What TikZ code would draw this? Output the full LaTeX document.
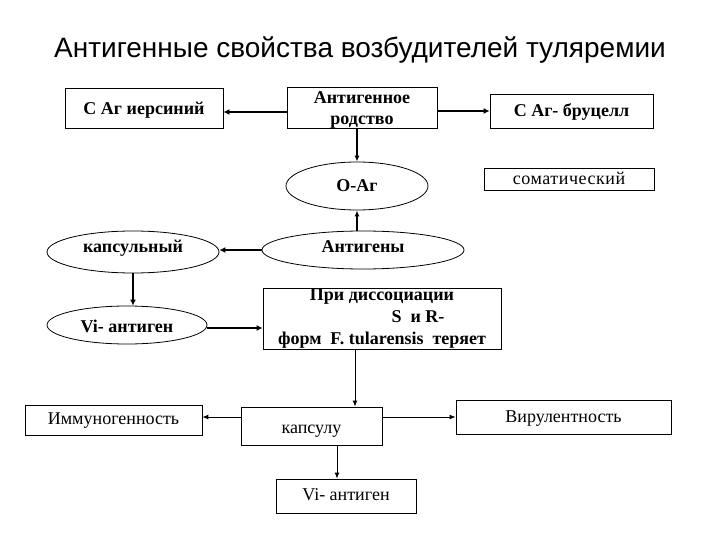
\documentclass[tikz,border=0pt]{standalone}
\usepackage{fontspec}
\setmainfont{Liberation Serif}
\newfontfamily\titlefont{Liberation Sans}
\usetikzlibrary{shapes.geometric,arrows.meta}
\begin{document}
\begin{tikzpicture}[x=1pt,y=-1pt,
  boxm/.style={draw, line width=0.8pt, inner sep=0pt, align=center, font=\fontsize{18}{21}\selectfont\bfseries},
  boxb/.style={draw, line width=0.8pt, inner sep=0pt, font=\fontsize{18}{21}\selectfont\bfseries, text height=12pt, text depth=0pt},
  boxr/.style={draw, line width=0.8pt, inner sep=0pt, font=\fontsize{18}{21}\selectfont, text height=12pt, text depth=0pt},
  ell/.style={draw, ellipse, line width=0.8pt, inner sep=0pt, font=\fontsize{18}{21}\selectfont\bfseries, text depth=0pt},
  arrA/.style={line width=2pt, -{Latex[length=6pt,width=6pt]}},
  arrB/.style={line width=1.3pt, -{Latex[length=6pt,width=5pt]}},
  arrC/.style={line width=0.9pt, -{Latex[length=6pt,width=5pt]}}]
\useasboundingbox (0,0) rectangle (720,540);
\fill[white] (0,0) rectangle (720,540);
\node[anchor=base, font=\titlefont\fontsize{28}{32}\selectfont] (title) at (360,58) {Антигенные свойства возбудителей туляремии};
% top row
\node[boxb, text height=14pt, minimum width=158pt, minimum height=40pt] (ci) at (144,108) {С Аг иерсиний};
\node[boxm, minimum width=150pt, minimum height=40pt] (ar) at (362,108) {\rule{0pt}{16.5pt}Антигенное\\родство};
\node[boxb, minimum width=163pt, minimum height=34pt] (br) at (571.5,111) {С Аг- бруцелл};
\node[boxr, minimum width=170pt, minimum height=22pt, font=\fontsize{18}{21}\selectfont\addfontfeatures{LetterSpace=3}] (som) at (569,179) {соматический};
% ellipses
\node[ell, text height=11pt, minimum width=142pt, minimum height=48pt] (oag) at (357,186) {О-Аг};
\node[ell, text height=0pt, minimum width=172pt, minimum height=42pt] (kap) at (133,252) {капсульный};
\node[ell, text height=4pt, minimum width=202pt, minimum height=38pt] (ag) at (363,250) {Антигены};
\node[ell, text height=14pt, minimum width=160pt, minimum height=38pt] (vi1) at (127,325) {Vi- антиген};
% dissociation box
\node[boxm, minimum width=238pt, minimum height=61pt, font=\fontsize{18}{22}\selectfont\bfseries] (pri) at (382,318.5) {При диссоциации\\\hspace*{72pt}S\ \ и R-\\форм\ \ F. tularensis\ \ теряет};
% bottom row
\node[boxr, text height=8pt, minimum width=177pt, minimum height=30pt] (imm) at (113.5,420) {Иммуногенность};
\node[boxr, text height=14pt, minimum width=141pt, minimum height=38pt] (kap2) at (311.5,426) {капсулу};
\node[boxr, text height=10pt, minimum width=215pt, minimum height=34pt] (vir) at (563.5,417) {Вирулентность};
\node[boxr, text height=8pt, minimum width=140pt, minimum height=34pt] (vi2) at (346,496) {Vi- антиген};
% connectors
\draw[arrA] ([yshift=-4pt]ar.west) -- ([yshift=-4pt]ci.east);
\draw[arrA] (ar.east |- br.west) -- (br.west);
\draw[arrB] (oag.north |- ar.south) -- (oag.north);
\draw[arrB] (oag.south |- ag.north) -- (oag.south);
\draw[arrA] (ag.west) -- (ag.west -| kap.east);
\draw[arrA] (kap.south) -- (kap.south |- vi1.north);
\draw[arrA] ([yshift=-3pt]vi1.east) -- ([yshift=-3pt]vi1.east -| pri.west);
\draw[arrC] ([xshift=-27pt]pri.south) -- ([xshift=-27pt]pri.south |- kap2.north);
\draw[arrC] (kap2.west |- vir.west) -- (imm.east |- vir.west);
\draw[arrC] (kap2.east |- vir.west) -- (vir.west);
\draw[arrC] ([xshift=-9pt]vi2.north |- kap2.south) -- ([xshift=-9pt]vi2.north);
\end{tikzpicture}
\end{document}
